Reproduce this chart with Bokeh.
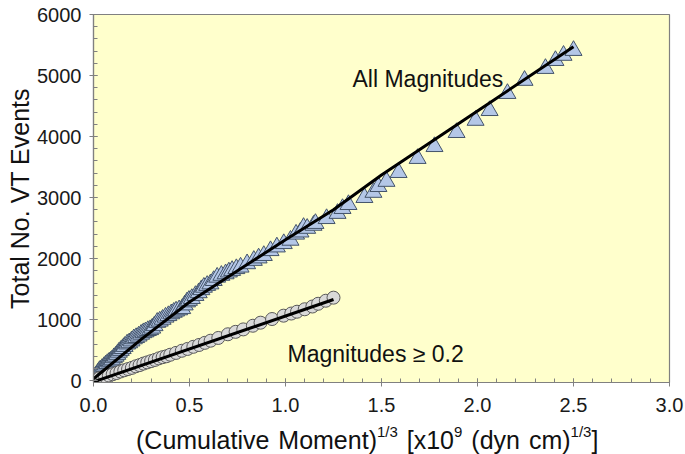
import numpy as np
from bokeh.plotting import figure
from bokeh.layouts import column
from bokeh.models import Range1d, SingleIntervalTicker, NumeralTickFormatter, Label, Div
from bokeh.embed import file_html
from bokeh.resources import INLINE

# ---------------- data ----------------
tri_x = [0.000, 0.003, 0.008, 0.015, 0.022, 0.028, 0.035, 0.045, 0.055, 0.063,
         0.072, 0.082, 0.090, 0.097, 0.106, 0.115, 0.124, 0.132, 0.142, 0.152,
         0.162, 0.175, 0.186, 0.198, 0.210, 0.222, 0.235, 0.248, 0.260, 0.271,
         0.283, 0.295, 0.306, 0.318, 0.332, 0.345, 0.360, 0.375, 0.390, 0.405,
         0.418, 0.430, 0.446, 0.462, 0.475, 0.487, 0.497, 0.512, 0.531, 0.548,
         0.562, 0.575, 0.592, 0.609, 0.626, 0.644, 0.666, 0.688, 0.705, 0.722,
         0.744, 0.766, 0.800, 0.835, 0.860, 0.887, 0.922, 0.955, 0.991, 1.026,
         1.055, 1.078, 1.094, 1.113, 1.146, 1.156, 1.214, 1.271, 1.297, 1.328,
         1.411, 1.458, 1.484, 1.526, 1.589, 1.688, 1.776, 1.891, 1.990, 2.063,
         2.156, 2.245, 2.354, 2.406, 2.448, 2.500]
tri_y = [0, 30, 60, 90, 120, 150, 175, 200, 230, 255,
         280, 305, 320, 340, 375, 400, 430, 465, 495, 525,
         560, 600, 620, 650, 685, 705, 730, 760, 785, 800,
         820, 835, 860, 900, 955, 975, 1005, 1040, 1065, 1095,
         1120, 1140, 1160, 1180, 1240, 1290, 1315, 1345, 1395, 1440,
         1490, 1530, 1560, 1585, 1640, 1695, 1725, 1750, 1780, 1805,
         1835, 1860, 1915, 1970, 2010, 2050, 2130, 2190, 2245, 2300,
         2400, 2435, 2510, 2495, 2545, 2575, 2655, 2740, 2820, 2885,
         3000, 3085, 3180, 3265, 3410, 3640, 3835, 4065, 4265, 4425,
         4705, 4920, 5115, 5245, 5330, 5410]

circ_x = [0.00, 0.01, 0.02, 0.03, 0.05, 0.06, 0.08, 0.10, 0.12, 0.14,
          0.16, 0.18, 0.20, 0.22, 0.24, 0.26, 0.28, 0.30, 0.32, 0.34,
          0.36, 0.38, 0.40, 0.43, 0.46, 0.49, 0.52, 0.55, 0.58, 0.61,
          0.65, 0.70, 0.74, 0.78, 0.83, 0.87, 0.93, 0.99, 1.03, 1.06,
          1.10, 1.14, 1.17, 1.21, 1.25]
circ_y = [5, 15, 25, 40, 55, 70, 85, 105, 125, 150,
          170, 190, 210, 235, 255, 280, 300, 320, 340, 365,
          385, 400, 425, 455, 490, 520, 555, 585, 620, 655,
          700, 760, 800, 840, 900, 950, 1010, 1065, 1100, 1130,
          1170, 1215, 1260, 1310, 1360]

fit_all_x = [0.0, 0.25, 0.5, 0.75, 1.0, 1.25, 1.5, 2.0, 2.5]
fit_all_y = [30, 680, 1290, 1800, 2310, 2800, 3370, 4420, 5470]
fit_m02_x = [0.0, 1.25]
fit_m02_y = [-20, 1330]

x_range_vals = (0.0, 3.0)
y_range_vals = (-30, 6000)
x_tick_step = 0.5
y_tick_step = 1000

series_labels = ["All Magnitudes", "Magnitudes \u2265 0.2"]
y_title = "Total No. VT Events"
x_title_html = ("(Cumulative Moment)<span class='s'>1/3</span> [x10<span class='s'>9</span>"
                " (dyn cm)<span class='s'>1/3</span>]")

# ---------------- layout (page pixels) ----------------
FONT = "Liberation Sans"
W = 685
PH = 419                       # figure height
DH = 35                        # x-title strip height
FL, FR, FT, FB = 93, 669, 14, 382   # frame edges on the page
OX, OY = 0, 0                        # canvas origin on the page


def dx(px):
    return x_range_vals[0] + (px - FL) * (x_range_vals[1] - x_range_vals[0]) / (FR - FL)


def dy(py):
    return y_range_vals[0] + (FB - py) * (y_range_vals[1] - y_range_vals[0]) / (FB - FT)


p = figure(width=W, height=PH, output_backend="svg", toolbar_location=None,
           x_range=Range1d(*x_range_vals), y_range=Range1d(*y_range_vals),
           min_border_left=FL - OX, min_border_right=W - (FR - OX),
           min_border_top=FT - OY, min_border_bottom=PH - (FB - OY))
p.background_fill_color = "#FFFFCC"
p.border_fill_color = "white"
p.outline_line_color = "#808080"
p.outline_line_width = 1.2
p.xgrid.visible = False
p.ygrid.visible = False

p.xaxis.ticker = SingleIntervalTicker(interval=x_tick_step, num_minor_ticks=5)
p.yaxis.ticker = SingleIntervalTicker(interval=y_tick_step, num_minor_ticks=5)
p.xaxis.formatter = NumeralTickFormatter(format="0.0")
p.yaxis.formatter = NumeralTickFormatter(format="0")

for ax in (p.xaxis, p.yaxis):
    ax.axis_line_color = "#808080"
    ax.axis_line_width = 1.2
    ax.major_tick_line_color = "#808080"
    ax.minor_tick_line_color = "#808080"
    ax.major_tick_in = 4
    ax.major_tick_out = 4
    ax.minor_tick_in = 4
    ax.minor_tick_out = 0
    ax.major_label_text_font = FONT
    ax.major_label_text_font_size = "20px"
    ax.major_label_text_color = "#1a1a1a"
p.xaxis.major_label_standoff = 11
p.yaxis.major_label_standoff = 8

p.yaxis.axis_label = y_title
p.yaxis.axis_label_text_font = FONT
p.yaxis.axis_label_text_font_size = "25px"
p.yaxis.axis_label_text_font_style = "normal"
p.yaxis.axis_label_text_color = "#111111"
p.yaxis.axis_label_standoff = 0

# markers
p.scatter(tri_x, tri_y, marker="triangle", size=17,
          fill_color="#B4C7E7", line_color="#44546A", line_width=1)
p.scatter(circ_x, circ_y, marker="circle", size=13,
          fill_color="#D9D9D9", line_color="#595959", line_width=1)

# fit lines
p.line(fit_all_x, fit_all_y, line_color="black", line_width=3)
p.line(fit_m02_x, fit_m02_y, line_color="black", line_width=3)

# series annotations
p.add_layout(Label(x=dx(352), y=dy(78), text=series_labels[0], text_font=FONT,
                   text_font_size="23px", text_color="#111111",
                   text_baseline="alphabetic", text_align="left"))
p.add_layout(Label(x=dx(287), y=dy(353), text=series_labels[1], text_font=FONT,
                   text_font_size="23px", text_color="#111111",
                   text_baseline="alphabetic", text_align="left"))

# x-axis title with real superscripts
div = Div(
    text=("<style>.xt{font-family:'Liberation Sans',Arial,sans-serif;font-size:25px;"
          "line-height:28px;color:#111;white-space:nowrap;padding-left:136px;padding-top:5px;"
          "word-spacing:2px;}"
          ".xt .s{font-size:15px;line-height:1;vertical-align:12px;word-spacing:0;}</style>"
          "<div class='xt'>" + x_title_html + "</div>"),
    width=W, height=DH, margin=(0, 0, 0, 0), styles={"overflow": "visible"})

layout = column(p, div, spacing=0)
open("out.html", "w").write(file_html(layout, INLINE))
